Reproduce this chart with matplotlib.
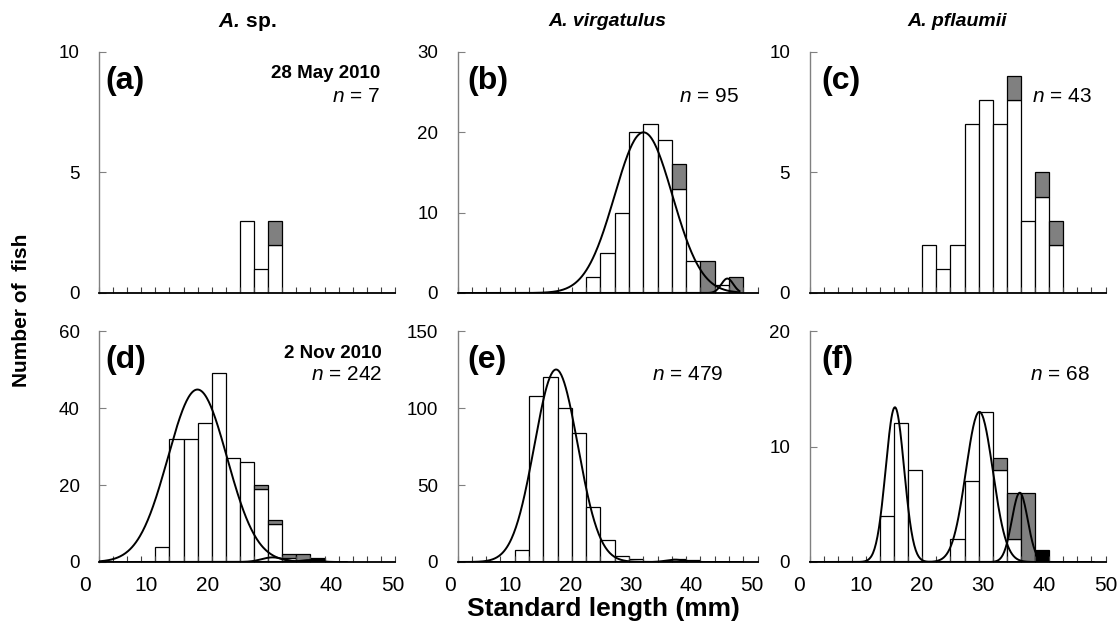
import numpy as np
import matplotlib
matplotlib.use('Agg')
import matplotlib.pyplot as plt

plt.rcParams['font.family'] = ['Liberation Sans', 'DejaVu Sans']
plt.rcParams['mathtext.fontset'] = 'custom'
plt.rcParams['mathtext.rm'] = 'Liberation Sans'
plt.rcParams['mathtext.it'] = 'Liberation Sans:italic'
plt.rcParams['mathtext.bf'] = 'Liberation Sans:bold'
plt.rcParams['mathtext.bfit'] = 'Liberation Sans:italic:bold'

W, H = 1120, 628

# 21 length classes (2 mm) on the column axis
bins = np.arange(21)

a_white = [0, 0, 0, 0, 0, 0, 0, 0, 0, 0, 3, 1, 2, 0, 0, 0, 0, 0, 0, 0, 0]
a_grey = [0, 0, 0, 0, 0, 0, 0, 0, 0, 0, 0, 0, 1, 0, 0, 0, 0, 0, 0, 0, 0]
b_white = [0, 0, 0, 0, 0, 0, 0, 0, 0, 2, 5, 10, 20, 21, 19, 13, 4, 0, 1, 0, 0]
b_grey = [0, 0, 0, 0, 0, 0, 0, 0, 0, 0, 0, 0, 0, 0, 0, 3, 0, 4, 0, 2, 0]
c_white = [0, 0, 0, 0, 0, 0, 0, 0, 2, 1, 2, 7, 8, 7, 8, 3, 4, 2, 0, 0, 0]
c_grey = [0, 0, 0, 0, 0, 0, 0, 0, 0, 0, 0, 0, 0, 0, 1, 0, 1, 1, 0, 0, 0]
d_white = [0, 0, 0, 0, 4, 32, 32, 36, 49, 27, 26, 19, 10, 1, 0, 0, 0, 0, 0, 0, 0]
d_grey = [0, 0, 0, 0, 0, 0, 0, 0, 0, 0, 0, 1, 1, 1, 2, 0, 0, 0, 0, 0, 0]
d_black = [0, 0, 0, 0, 0, 0, 0, 0, 0, 0, 0, 0, 0, 0, 0, 1, 0, 0, 0, 0, 0]
e_white = [0, 0, 0, 0, 8, 108, 120, 100, 84, 36, 14, 4, 2, 0, 0, 2, 1, 0, 0, 0, 0]
f_white = [0, 0, 0, 0, 0, 4, 12, 8, 0, 0, 2, 7, 13, 8, 2, 0, 0, 0, 0, 0, 0]
f_grey = [0, 0, 0, 0, 0, 0, 0, 0, 0, 0, 0, 0, 0, 1, 4, 6, 0, 0, 0, 0, 0]
f_black = [0, 0, 0, 0, 0, 0, 0, 0, 0, 0, 0, 0, 0, 0, 0, 0, 1, 0, 0, 0, 0]
zero = [0] * 21

white = [a_white, b_white, c_white, d_white, e_white, f_white]
grey = [a_grey, b_grey, c_grey, d_grey, zero, f_grey]
black = [zero, zero, zero, d_black, zero, f_black]

ymax = [10, 30, 10, 60, 150, 20]
ystep = [5, 10, 5, 20, 50, 10]

# fitted normal components (mm): mean, sd, peak height
fit_mean = [[], [32.1, 46.0], [], [18.3, 30.5, 36.5], [17.6, 37.3], [15.6, 29.4, 36.0]]
fit_sd = [[], [4.8, 1.0], [], [4.8, 1.8, 1.5], [3.6, 1.5], [1.5, 2.2, 1.3]]
fit_peak = [[], [20.0, 1.8], [], [44.8, 1.2, 0.5], [125, 1.5], [13.4, 13.0, 6.0]]
fit_end = [0, 48, 0, 42.5, 48.5, 48]

letters = ['(a)', '(b)', '(c)', '(d)', '(e)', '(f)']
n_text = ['7', '95', '43', '242', '479', '68']
dates = ['28 May 2010', '', '', '2 Nov 2010', '', '']
species = [r'$\mathbfit{A.}\,$sp.', 'A. virgatulus', 'A. pflaumii']

col_left = [99, 457.5, 809.5]
col_right = [395, 757.5, 1105.5]
row_top = [52, 331]
row_bot = [293, 562]
# length scale (mm) seen by the curve axis at the left / right plot edges
mm_lo = [2.3, 1.25, 1.65]
mm_hi = [50.4, 51.0, 50.0]
n_right = [-15, -19, -14, -13, -34, -16]
letter_dx = [6, 10, 12]

fig = plt.figure(figsize=(W / 100, H / 100), dpi=100)

for k in range(6):
    r, c = divmod(k, 3)
    rect = [col_left[c] / W, 1 - row_bot[r] / H,
            (col_right[c] - col_left[c]) / W, (row_bot[r] - row_top[r]) / H]
    ax = fig.add_axes(rect)
    cx = ax.twiny()

    w = np.array(white[k])
    g = np.array(grey[k])
    b = np.array(black[k])
    ax.bar(bins, w, width=1, align='edge', color='white', edgecolor='black', lw=0.9)
    ax.bar(bins[g > 0], g[g > 0], bottom=w[g > 0], width=1, align='edge',
           color='#808080', edgecolor='black', lw=0.9)
    ax.bar(bins[b > 0], b[b > 0], bottom=(w + g)[b > 0], width=1, align='edge',
           color='black', edgecolor='black', lw=0.9)

    ax.set_xlim(0, 21)
    ax.set_ylim(0, ymax[k])
    ax.set_xticks(np.arange(22))
    ax.set_xticklabels([])
    ax.set_yticks(np.arange(0, ymax[k] + 1, ystep[k]))
    ax.tick_params(axis='x', direction='in', length=4, width=0.8, color='#404040')
    ax.tick_params(axis='y', direction='in', length=5, width=0.8, color='#808080',
                   labelsize=13.5, pad=14)
    for s in ['top', 'right']:
        ax.spines[s].set_visible(False)
    ax.spines['left'].set_color('#808080')
    ax.spines['left'].set_linewidth(1.0)
    ax.spines['bottom'].set_color('black')
    ax.spines['bottom'].set_linewidth(1.3)

    cx.set_xlim(mm_lo[c], mm_hi[c])
    for s in cx.spines.values():
        s.set_visible(False)
    cx.tick_params(axis='x', length=0)
    if r == 1:
        cx.xaxis.tick_bottom()
        cx.set_xticks([10, 20, 30, 40, 50])
        cx.tick_params(axis='x', labelsize=15, pad=10)
        cx.annotate('0', xy=(0, 0), xycoords=('data', 'axes fraction'),
                    xytext=(0, -10), textcoords='offset points', ha='center', va='top',
                    fontsize=15, annotation_clip=False)
    else:
        cx.set_xticks([])

    for mu, sd, pk in zip(fit_mean[k], fit_sd[k], fit_peak[k]):
        x = np.linspace(0, fit_end[k], 400)
        cx.plot(x, pk * np.exp(-0.5 * ((x - mu) / sd) ** 2), color='black', lw=1.4)

    ax.annotate(letters[k], xy=(0, 1), xycoords='axes fraction', xytext=(letter_dx[c], -29),
                textcoords='offset pixels', ha='left', va='center',
                fontsize=23, fontweight='bold')
    if dates[k]:
        ax.annotate(dates[k], xy=(1, 1), xycoords='axes fraction', xytext=(n_right[k], -22),
                    textcoords='offset pixels', ha='right', va='center',
                    fontsize=13.5, fontweight='bold')
    ax.annotate(r'$\mathit{n}$ = ' + n_text[k], xy=(1, 1), xycoords='axes fraction',
                xytext=(n_right[k], -45 if r == 0 else -43), textcoords='offset pixels',
                ha='right', va='center', fontsize=15)

    if r == 0:
        tx = (col_left[c] + col_right[c]) / 2 / W
        if c == 0:
            fig.text(tx, 1 - 22 / H, species[c], ha='center', va='center',
                     fontsize=15, fontweight='bold')
        else:
            fig.text(tx, 1 - 22 / H, species[c], ha='center', va='center',
                     fontsize=14, fontweight='bold', style='italic')

fig.text(22 / W, 1 - 310 / H, 'Number of  fish', rotation=90, ha='center', va='center',
         fontsize=15, fontweight='bold')
fig.text(603 / W, 1 - 609 / H, 'Standard length (mm)', ha='center', va='center',
         fontsize=19, fontweight='bold')

fig.savefig('out.png', dpi=100)
